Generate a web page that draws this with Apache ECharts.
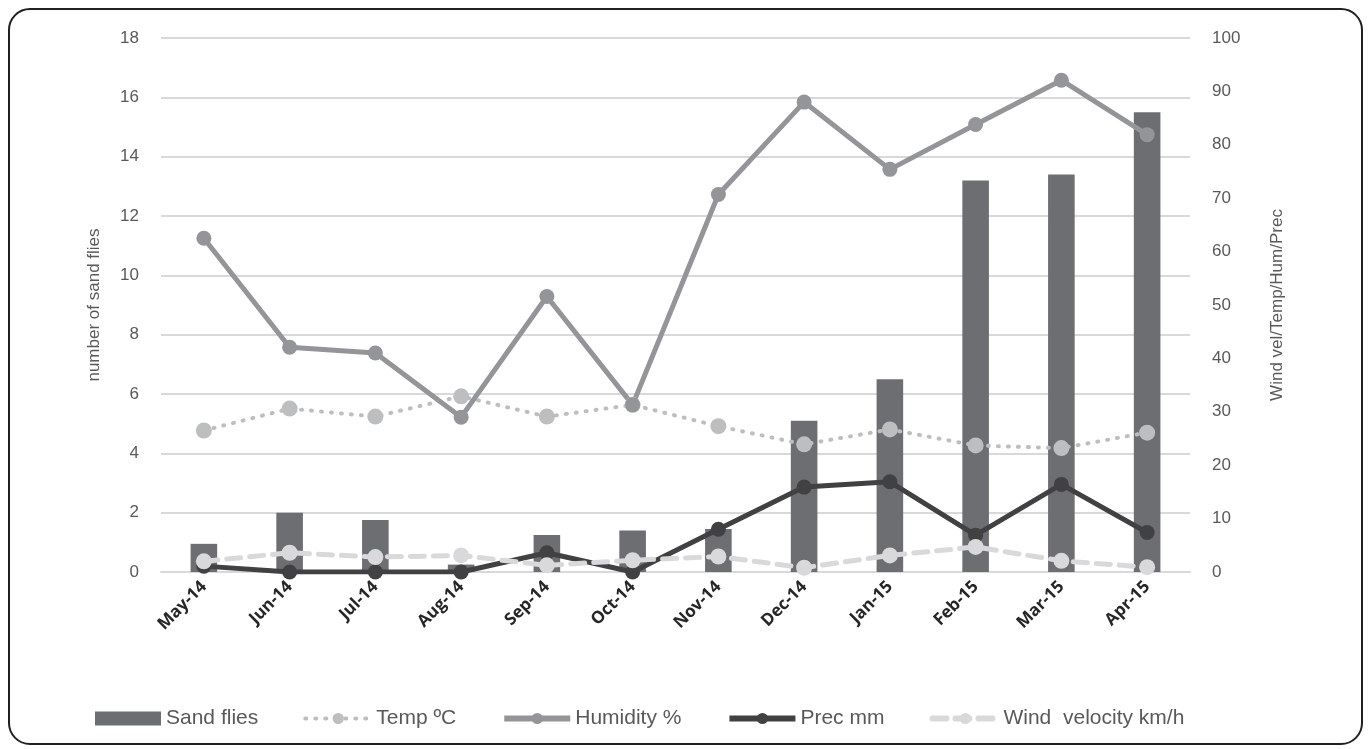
<!DOCTYPE html>
<html>
<head>
<meta charset="utf-8">
<script src="https://cdn.jsdelivr.net/npm/echarts@6/dist/echarts.min.js"></script>
<style>
html,body{margin:0;padding:0;background:#fff;}
#frame{position:absolute;left:8px;top:8px;width:1355px;height:737px;border:2px solid #231f20;border-radius:22px;box-sizing:border-box;}
#chart{position:absolute;left:0;top:0;width:1371px;height:749px;}
</style>
</head>
<body>
<div id="frame"></div>
<div id="chart"></div>
<script>
const categories = ['May-14','Jun-14','Jul-14','Aug-14','Sep-14','Oct-14','Nov-14','Dec-14','Jan-15','Feb-15','Mar-15','Apr-15'];
const sandFlies = [0.95, 2.0, 1.75, 0.25, 1.25, 1.4, 1.45, 5.1, 6.5, 13.2, 13.4, 15.5];
const tempC = [26.5, 30.6, 29.1, 32.9, 29.1, 31.3, 27.3, 23.9, 26.7, 23.7, 23.2, 26.1];
const humidity = [62.5, 42.1, 41.0, 29.0, 51.6, 31.3, 70.7, 88.0, 75.4, 83.8, 92.1, 81.9];
const precMm = [1.1, 0, 0, 0, 3.6, 0, 8.0, 15.9, 16.9, 6.9, 16.4, 7.4];
const windKmh = [2.0, 3.6, 2.8, 3.1, 1.25, 2.2, 2.9, 0.8, 3.1, 4.7, 2.1, 0.9];

const chart = echarts.init(document.getElementById('chart'));
const axisLabelStyle = {color:'#595959', fontSize:17, fontFamily:'Liberation Sans, Arial, sans-serif'};
chart.setOption({
  animation:false,
  grid:{left:161, right:181, top:38, bottom:177},
  legend:{
    bottom:15, left:90, itemWidth:66, itemHeight:14, itemGap:45,
    textStyle:{color:'#595959', fontSize:21, fontFamily:'Liberation Sans, Arial, sans-serif'},
    data:[
      {name:'Sand flies', icon:'rect'},
      {name:'Temp ºC', lineStyle:{width:4}},
      {name:'Humidity %', lineStyle:{width:6}},
      {name:'Prec mm', lineStyle:{width:6}},
      {name:'Wind  velocity km/h', lineStyle:{width:6}}
    ]
  },
  xAxis:{
    type:'category', data:categories,
    axisTick:{show:false},
    axisLine:{lineStyle:{color:'#d9d9d9', width:2}},
    axisLabel:{rotate:45, color:'#262626', fontSize:17, fontWeight:'bold', fontFamily:'Open Sans, sans-serif', margin:12}
  },
  yAxis:[
    {type:'value', min:0, max:18, interval:2, name:'number of sand flies', nameLocation:'middle', nameGap:58, nameMoveOverlap:false,
     nameTextStyle:axisLabelStyle, axisLabel:Object.assign({margin:22}, axisLabelStyle),
     splitLine:{lineStyle:{color:'#d9d9d9', width:2}}, axisLine:{show:false}, axisTick:{show:false}},
    {type:'value', min:0, max:100, interval:10, name:'Wind vel/Temp/Hum/Prec', nameLocation:'middle', nameGap:79,
     nameTextStyle:axisLabelStyle, axisLabel:Object.assign({margin:22}, axisLabelStyle),
     splitLine:{show:false}, axisLine:{show:false}, axisTick:{show:false}}
  ],
  series:[
    {name:'Sand flies', type:'bar', data:sandFlies, barWidth:'31%', itemStyle:{color:'#6d6e71'}, yAxisIndex:0},
    {name:'Temp ºC', type:'line', yAxisIndex:1, data:tempC, symbol:'circle', symbolSize:16,
     itemStyle:{color:'#bcbec0'}, lineStyle:{color:'#bcbec0', width:4, type:[1,9], cap:'round'}},
    {name:'Humidity %', type:'line', yAxisIndex:1, data:humidity, symbol:'circle', symbolSize:15,
     itemStyle:{color:'#939598'}, lineStyle:{color:'#939598', width:5}},
    {name:'Prec mm', type:'line', yAxisIndex:1, data:precMm, symbol:'circle', symbolSize:15,
     itemStyle:{color:'#414042'}, lineStyle:{color:'#414042', width:5}},
    {name:'Wind  velocity km/h', type:'line', yAxisIndex:1, data:windKmh, symbol:'circle', symbolSize:16,
     itemStyle:{color:'#d9d9db'}, lineStyle:{color:'#d9d9db', width:5, type:[14,9], cap:'round'}}
  ]
});
</script>
</body>
</html>
